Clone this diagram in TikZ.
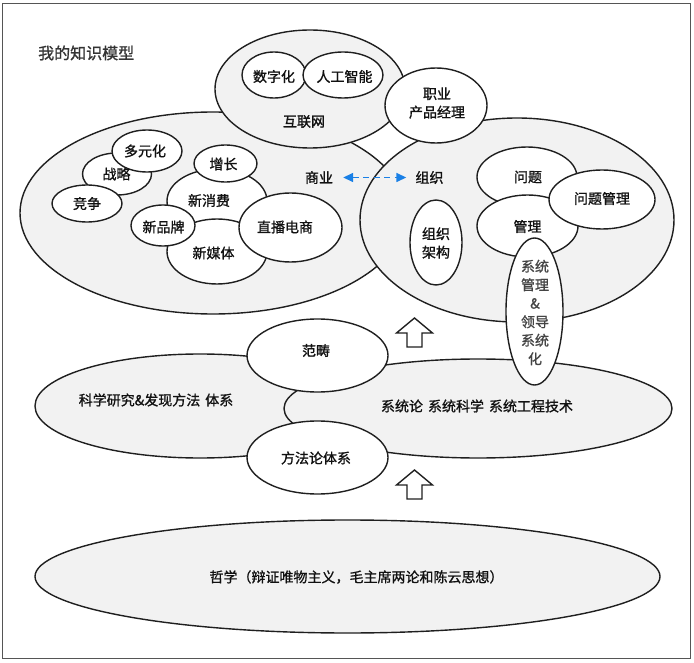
\documentclass[tikz,border=0pt]{standalone}
\usepackage{fontspec}
\setmainfont{Noto Sans CJK SC}[FakeBold=1.1]
\usetikzlibrary{shapes.geometric,arrows.meta}
\definecolor{bigfill}{HTML}{F2F2F2}
\definecolor{edgec}{HTML}{1F1F1F}
\definecolor{txtc}{HTML}{111111}
\definecolor{greytxt}{HTML}{444444}
\definecolor{titlec}{HTML}{333333}
\definecolor{framec}{HTML}{555555}
\definecolor{arrowblue}{HTML}{1A80E6}
\begin{document}
\begin{tikzpicture}[x=1pt,y=-1pt,
  oval/.style={ellipse, draw=edgec, line width=1.4pt, inner sep=0pt},
  bigoval/.style={oval, fill=bigfill},
  smalloval/.style={oval, fill=white},
  sz/.style 2 args={minimum width=#1pt, minimum height=#2pt},
  lbl/.style={inner sep=0pt, text=txtc, font=\fontsize{14}{18.5}\selectfont, align=center},
  blockarrow/.style={draw=edgec, line width=1.4pt, fill=white, line join=miter},
  dasharrow/.style={draw=arrowblue, line width=1.5pt, dash pattern=on 6pt off 4.5pt,
     {Triangle[length=10pt,width=9pt]}-{Triangle[length=10pt,width=9pt]}}
]
\useasboundingbox (0,0) rectangle (694,663);
\draw[framec, line width=1.5pt] (2.5,3.5) rectangle (690.5,658.5);

% title
\node[anchor=west, inner sep=0pt, text=titlec, font=\fontsize{16}{20}\selectfont] (title) at (38,53) {我的知识模型};

% ---- business ----
\node[bigoval, sz={386}{202}] (e-shangye) at (213,213) {};
% ---- internet ----
\node[bigoval, sz={190}{118}] (e-hulian) at (310,89) {};
\node[smalloval, sz={64}{46}] (e-shuzi) at (274,75) {};
\node[smalloval, sz={80}{46}] (e-rengong) at (343,75) {};
% ---- organisation ----
\node[bigoval, sz={314}{204}] (e-zuzhi) at (517,220) {};
\node[smalloval, sz={102}{75}] (e-zhiye) at (436,105.5) {};

% inside business
\node[smalloval, sz={69}{42}] (e-zhanlue) at (117,174) {};
\node[smalloval, sz={70}{42}] (e-duoyuan) at (147,151) {};
\node[smalloval, sz={70}{37}] (e-jingzheng) at (87,203.5) {};
\node[smalloval, sz={100}{64}] (e-xiaofei) at (217,201) {};
\node[smalloval, sz={63}{37}] (e-zengzhang) at (225.5,163.5) {};
\node[smalloval, sz={100}{65}] (e-meiti) at (217,251.5) {};
\node[smalloval, sz={64}{41}] (e-pinpai) at (163,225.5) {};
\node[smalloval, sz={103}{69}] (e-zhibo) at (290.5,227.5) {};

% inside organisation
\node[smalloval, sz={52}{85}] (e-jiagou) at (436,242.5) {};
\node[smalloval, sz={100}{60}] (e-wenti) at (527,177) {};
\node[smalloval, sz={101}{62}] (e-guanli) at (527.5,226) {};
\node[smalloval, sz={106}{59}] (e-wtgl) at (602,199.5) {};

% methodology layer
\node[bigoval, sz={330}{104}] (e-kexue) at (200,406) {};
\node[bigoval, sz={388}{99}] (e-xitong) at (478,408.5) {};
\node[smalloval, sz={141}{73}] (e-fanchou) at (317.5,355.5) {};
\node[smalloval, sz={141}{73}] (e-fangfa) at (317.5,457.5) {};

% system management
\node[smalloval, sz={57}{147}] (e-xtgl) at (534.5,311.5) {};

% philosophy
\node[bigoval, sz={625}{113}] (e-zhexue) at (347.5,576.5) {};

% block arrows
\coordinate (a1) at (414.5,318);
\draw[blockarrow] (a1) -- ++(18,15) -- ++(-10.5,0) -- ++(0,14) -- ++(-15,0) -- ++(0,-14) -- ++(-10.5,0) -- cycle;
\coordinate (a2) at (414.5,470);
\draw[blockarrow] (a2) -- ++(18,15) -- ++(-10.5,0) -- ++(0,14) -- ++(-15,0) -- ++(0,-14) -- ++(-10.5,0) -- cycle;

% texts
\node[lbl] (t-shuzi) at (274,76.5) {数字化};
\node[lbl] (t-rengong) at (344.5,76.5) {人工智能};
\node[lbl] (t-hulian) at (304,121.5) {互联网};
\node[lbl] (t-zhiye) at (437,103) {职业\\产品经理};
\node[lbl] (t-shangye) at (319,177.5) {商业};
\node[lbl] (t-zuzhi) at (429.5,177.5) {组织};
\node[lbl] (t-duoyuan) at (145,151) {多元化};
\node[lbl] (t-zhanlue) at (116.5,174) {战略};
\node[lbl] (t-jingzheng) at (87,203.5) {竞争};
\node[lbl] (t-zengzhang) at (223.5,164) {增长};
\node[lbl] (t-xiaofei) at (209,200.5) {新消费};
\node[lbl] (t-pinpai) at (163.5,227) {新品牌};
\node[lbl] (t-meiti) at (213.5,253) {新媒体};
\node[lbl] (t-zhibo) at (285,227) {直播电商};
\node[lbl] (t-jiagou) at (436,243) {组织\\架构};
\node[lbl] (t-wenti) at (528,177) {问题};
\node[lbl] (t-guanli) at (527.5,226.5) {管理};
\node[lbl] (t-wtgl) at (602,198.5) {问题管理};
\node[lbl, text=greytxt] (t-xtgl) at (535,312.5) {系统\\管理\\\&\\领导\\系统\\化};
\node[lbl] (t-fanchou) at (316,350.5) {范畴};
\node[lbl] (t-kexue) at (156,400) {科学研究\&发现方法\hspace{5pt}体系};
\node[lbl] (t-xitong) at (477,406) {系统论\hspace{5pt}系统科学\hspace{5pt}系统工程技术};
\node[lbl] (t-fangfa) at (316,458) {方法论体系};
\node[lbl] (t-zhexue) at (356.5,577) {哲学（辩证唯物主义，毛主席两论和陈云思想）};

% dashed double arrow
\draw[dasharrow, shorten <=10pt, shorten >=9pt] (t-shangye.east) -- (t-zuzhi.west);
\end{tikzpicture}
\end{document}
